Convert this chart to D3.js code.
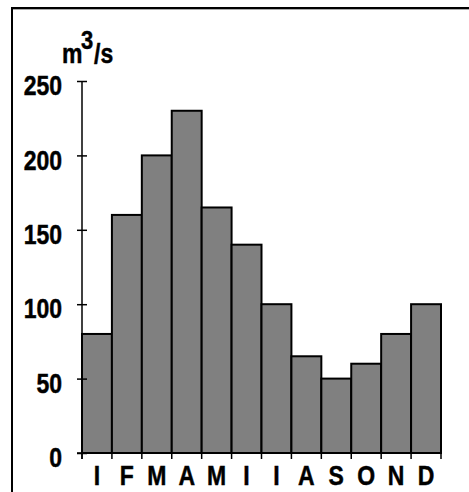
<!DOCTYPE html>
<html>
<head>
<meta charset="utf-8">
<script src="https://cdn.jsdelivr.net/npm/d3@7"></script>
<style>
  html, body { margin: 0; padding: 0; background: #fff; }
  svg { display: block; }
  text { font-family: "Liberation Sans", Arial, sans-serif; font-weight: bold; fill: #000; stroke: #000; stroke-width: 0.4px; }
</style>
</head>
<body>
<script>
const months = ["I", "F", "M", "A", "M", "I", "I", "A", "S", "O", "N", "D"];
const flow = [80, 160, 200, 230, 165, 140, 100, 65, 50, 60, 80, 100];
const yTicks = [0, 50, 100, 150, 200, 250];
const unitMain = "m", unitSup = "3", unitTail = "/s";

const W = 469, H = 492;
const svg = d3.select("body").append("svg").attr("width", W).attr("height", H);
svg.append("rect").attr("width", W).attr("height", H).attr("fill", "#fff");

// frame (left and top only, as in cropped original)
svg.append("line").attr("x1", 11).attr("x2", W).attr("y1", 8).attr("y2", 8)
  .attr("stroke", "#000").attr("stroke-width", 2);
svg.append("line").attr("x1", 12).attr("x2", W).attr("y1", 9.5).attr("y2", 9.5)
  .attr("stroke", "#aaa").attr("stroke-width", 1);
svg.append("line").attr("x1", 12).attr("x2", 12).attr("y1", 7).attr("y2", H)
  .attr("stroke", "#000").attr("stroke-width", 2);

const x = d3.scaleBand().domain(d3.range(months.length)).range([82, 441]).padding(0);
const y = d3.scaleLinear().domain([0, 250]).range([453, 81]);

// bars
svg.append("g").selectAll("rect").data(flow).join("rect")
  .attr("x", (d, i) => x(i))
  .attr("y", d => y(d))
  .attr("width", x.bandwidth())
  .attr("height", d => y(0) - y(d))
  .attr("fill", "#808080")
  .attr("stroke", "#000")
  .attr("stroke-width", 2);

// y axis
const gy = svg.append("g").attr("transform", "translate(82,0)")
  .call(d3.axisLeft(y).tickValues(yTicks).tickSizeOuter(0).tickSizeInner(5).tickPadding(20));
gy.select(".domain").remove();
gy.append("line").attr("x1", 0).attr("x2", 0).attr("y1", y(250)).attr("y2", y(0) + 6)
  .attr("stroke", "#000").attr("stroke-width", 1.5);
gy.selectAll(".tick line").attr("x1", -5).attr("x2", 5).attr("stroke", "#000").attr("stroke-width", 1.5);
gy.selectAll(".tick text")
  .attr("x", null).attr("dy", null)
  .attr("transform", "translate(-20,13.7) scale(1,1.2)")
  .attr("text-anchor", "end")
  .style("font-size", "23px")
  .style("font-family", "'Liberation Sans', Arial, sans-serif")
  .style("font-weight", "bold")
  .attr("fill", "#000");

// x axis
const gx = svg.append("g").attr("transform", `translate(0,${y(0)})`)
  .call(d3.axisBottom(x).tickFormat(i => months[i]).tickSize(0).tickPadding(0));
gx.select(".domain").remove();
gx.append("line").attr("x1", 77).attr("x2", x.range()[1]).attr("y1", 0).attr("y2", 0)
  .attr("stroke", "#000").attr("stroke-width", 1.5);
const edges = d3.range(months.length + 1).map(i => i < months.length ? x(i) : x.range()[1]);
gx.selectAll(".edge").data(edges).join("line").attr("class", "edge")
  .attr("x1", d => d).attr("x2", d => d).attr("y1", 0).attr("y2", 6)
  .attr("stroke", "#000").attr("stroke-width", 1.5);
gx.selectAll(".tick text")
  .attr("y", null).attr("dy", null)
  .attr("transform", "translate(0,32) scale(1,1.2)")
  .style("font-size", "23px")
  .style("font-family", "'Liberation Sans', Arial, sans-serif")
  .style("font-weight", "bold")
  .attr("fill", "#000");

// unit label m³/s
svg.append("text").attr("transform", "translate(62,63) scale(1,1.2)").style("font-size", "23px").text(unitMain);
svg.append("text").attr("transform", "translate(81,49) scale(1,1.2)").style("font-size", "22px").text(unitSup);
svg.append("text").attr("transform", "translate(94,63) scale(1,1.2)").style("font-size", "23px").text(unitTail);
</script>
</body>
</html>
